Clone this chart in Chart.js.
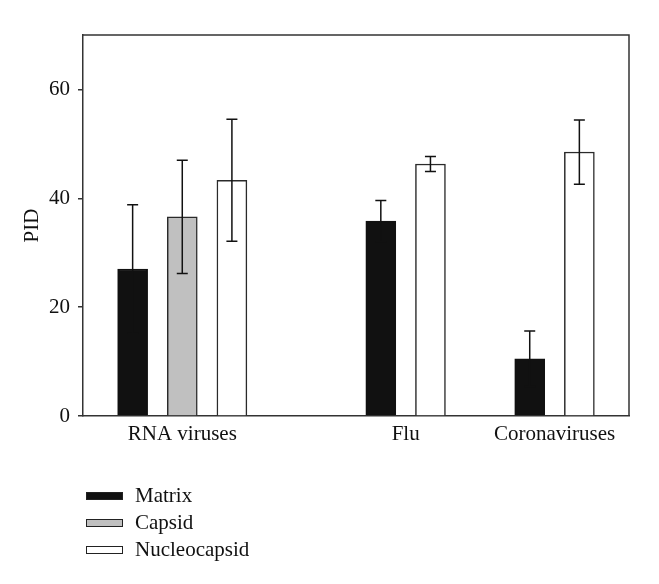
<!DOCTYPE html>
<html>
<head>
<meta charset="utf-8">
<script src="https://cdn.jsdelivr.net/npm/chart.js@4"></script>
<style>
  body { margin: 0; background: #fff; }
  #wrap { position: relative; width: 659px; height: 584px; }
  #legend { position: absolute; left: 86px; top: 482px; font-family: "Liberation Serif", serif; font-size: 21px; color: #111; }
  .item { display: flex; align-items: center; height: 27px; }
  .sw { width: 35px; height: 6px; border: 1.5px solid #222; margin-right: 12px; }
</style>
</head>
<body>
<div id="wrap">
  <canvas id="grafico" width="659" height="584"></canvas>
  <div id="legend"></div>
</div>
<script>
// Dados
const categorias = ['RNA viruses', 'Flu', 'Coronaviruses'];
const series = ['Matrix', 'Capsid', 'Nucleocapsid'];
const matrix = [27.0, 35.8, 10.5];
const capsid = [36.6, null, null];
const nucleocapsid = [43.3, 46.3, 48.5];
const erroMatrix = [11.8, 3.8, 5.1];
const erroCapsid = [10.4, null, null];
const erroNucleo = [11.2, 1.4, 5.9];
const yTicks = [0, 20, 40, 60];

// layout: primeira posição de cada grupo no eixo x
const inicioGrupo = [0, 5, 8];
const cores = ['#111111', '#c0c0c0', '#ffffff'];
const valores = [matrix, capsid, nucleocapsid];
const erros = [erroMatrix, erroCapsid, erroNucleo];

// posições das barras
const posicoes = valores.map(() => []);
const centros = [];
categorias.forEach((c, g) => {
    let k = 0;
    const slots = [];
    valores.forEach((arr, s) => {
        if (arr[g] !== null) {
            posicoes[s][g] = inicioGrupo[g] + k;
            slots.push(inicioGrupo[g] + k);
            k++;
        }
    });
    centros.push(slots.reduce((a, b) => a + b, 0) / slots.length);
});

const datasets = series.map((nome, s) => ({
    label: nome,
    data: valores[s].map((v, g) => v === null ? null : { x: posicoes[s][g], y: v, err: erros[s][g] }).filter(p => p),
    backgroundColor: cores[s],
    borderColor: s === 0 ? '#111' : '#2a2a2a',
    borderWidth: 1.5,
    barThickness: 30,
    grouped: false
}));

// barras de erro
const errorBars = {
    id: 'errorBars',
    afterDatasetsDraw(chart) {
        const ctx = chart.ctx;
        const y = chart.scales.y;
        ctx.save();
        ctx.strokeStyle = '#111';
        ctx.lineWidth = 1.5;
        chart.data.datasets.forEach((ds, i) => {
            const meta = chart.getDatasetMeta(i);
            ds.data.forEach((p, j) => {
                const x = meta.data[j].x;
                const top = y.getPixelForValue(p.y + p.err);
                const bot = y.getPixelForValue(p.y - p.err);
                ctx.beginPath();
                ctx.moveTo(x, top); ctx.lineTo(x, bot);
                ctx.moveTo(x - 5.5, top); ctx.lineTo(x + 5.5, top);
                ctx.moveTo(x - 5.5, bot); ctx.lineTo(x + 5.5, bot);
                ctx.stroke();
            });
        });
        ctx.restore();
    }
};

// moldura superior e direita
const moldura = {
    id: 'moldura',
    afterDraw(chart) {
        const a = chart.chartArea;
        const ctx = chart.ctx;
        ctx.save();
        ctx.strokeStyle = '#333';
        ctx.lineWidth = 1.5;
        ctx.beginPath();
        ctx.moveTo(a.left, a.top);
        ctx.lineTo(a.right, a.top);
        ctx.lineTo(a.right, a.bottom);
        ctx.stroke();
        ctx.restore();
    }
};

const fonte = { family: '"Liberation Serif", serif', size: 21 };

new Chart(document.getElementById('grafico').getContext('2d'), {
    type: 'bar',
    data: { datasets: datasets },
    plugins: [errorBars, moldura],
    options: {
        responsive: false,
        animation: false,
        layout: { padding: { left: 0, right: 30, top: 35, bottom: 128 } },
        plugins: { legend: { display: false }, tooltip: { enabled: false } },
        scales: {
            x: {
                type: 'linear',
                offset: false,
                min: -1,
                max: 10,
                afterBuildTicks: (scale) => { scale.ticks = centros.map(v => ({ value: v })); },
                afterFit: (scale) => { scale.height = 40; },
                grid: { display: false, drawTicks: false },
                border: { color: '#333', width: 1.5 },
                ticks: {
                    padding: 6,
                    color: '#111',
                    font: fonte,
                    maxRotation: 0,
                    autoSkip: false,
                    callback: (v) => categorias[centros.indexOf(v)]
                }
            },
            y: {
                min: 0,
                max: 70,
                afterBuildTicks: (scale) => { scale.ticks = yTicks.map(v => ({ value: v })); },
                afterFit: (scale) => { scale.width = 83; },
                grid: { drawOnChartArea: false, drawTicks: true, tickLength: 5, color: '#333', lineWidth: 1.5 },
                border: { color: '#333', width: 1.5 },
                ticks: { padding: 8, color: '#111', font: fonte },
                title: { display: true, text: 'PID', color: '#111', font: fonte, padding: { top: 20, bottom: 0 } }
            }
        }
    }
});

// legenda
const legenda = document.getElementById('legend');
series.forEach((nome, s) => {
    const item = document.createElement('div');
    item.className = 'item';
    const sw = document.createElement('span');
    sw.className = 'sw';
    sw.style.background = cores[s];
    const txt = document.createElement('span');
    txt.textContent = nome;
    item.appendChild(sw);
    item.appendChild(txt);
    legenda.appendChild(item);
});
</script>
</body>
</html>
